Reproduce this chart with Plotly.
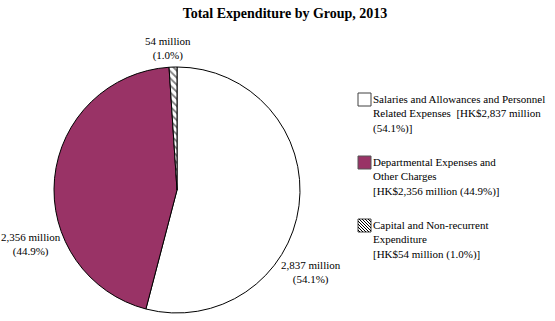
import plotly.graph_objects as go

# ---- data ----
groups = ["Salaries and Allowances and Personnel Related Expenses",
          "Departmental Expenses and Other Charges",
          "Capital and Non-recurrent Expenditure"]
legend_names = ["Salaries and Allowances and Personnel<br>Related Expenses  ",
                "Departmental Expenses and<br>Other Charges<br>",
                "Capital and Non-recurrent<br>Expenditure<br>"]
values_m = [2837, 2356, 54]          # HK$ million
percents = [54.1, 44.9, 1.0]
title_text = "Total Expenditure by Group, 2013"

W, H = 555, 321
FONT = "Liberation Serif, Times New Roman, serif"
PURPLE = "#993366"

def px(x):
    return x / W

def py(y):
    return 1 - y / H

fig = go.Figure()
fig.add_trace(go.Pie(
    labels=groups,
    values=values_m,
    sort=False,
    direction="clockwise",
    rotation=0,
    textinfo="none",
    hoverinfo="label+value+percent",
    marker=dict(
        colors=["white", PURPLE, "white"],
        line=dict(color="black", width=1),
        pattern=dict(shape=["", "", "\\"], fgcolor="#7f7f7f", bgcolor="white",
                     size=5, solidity=0.35),
    ),
    domain=dict(x=[px(54), px(300)], y=[py(313), py(67)]),
    showlegend=False,
))

annotations = []
# slice labels: (x, y, xanchor)
label_pos = [(311, 272, "center"), (31, 244, "center"), (168, 48, "center")]
for v, p, (lx, ly, xa) in zip(values_m, percents, label_pos):
    annotations.append(dict(
        x=px(lx), y=py(ly), xref="paper", yref="paper",
        text=f"{v:,} million<br>({p:.1f}%)", showarrow=False,
        xanchor=xa, yanchor="middle", align="center",
        font=dict(family=FONT, size=11, color="black")))

# legend (boxes + text)
shapes = []
box_tops = [93, 156, 219]
box_x0, box_s = 358, 13
fills = ["white", PURPLE, "white"]
for i, (name, v, p) in enumerate(zip(legend_names, values_m, percents)):
    t = box_tops[i]
    if i == 0:
        txt = f"{name}[HK${v:,} million<br>({p:.1f}%)]"
    else:
        txt = f"{name}[HK${v:,} million ({p:.1f}%)]"
    annotations.append(dict(
        x=px(371), y=py(t - 2), xref="paper", yref="paper",
        text=txt, showarrow=False, xanchor="left", yanchor="top",
        align="left", font=dict(family=FONT, size=11, color="black")))
    shapes.append(dict(type="rect", xref="paper", yref="paper",
                       x0=px(box_x0), x1=px(box_x0 + box_s),
                       y0=py(t + box_s), y1=py(t),
                       fillcolor=fills[i],
                       line=dict(color="#404040" if i != 1 else "#555555", width=1),
                       layer="above" if i == 2 else "below"))
    if i == 2:
        # diagonal hatch "\" clipped to the box
        x0, y0, s = box_x0, t, box_s
        for c in range(-s + 2, s, 3):
            xa = max(0, c); ya = xa - c
            xb = min(s, s + c); yb = xb - c
            if xb - xa <= 0:
                continue
            shapes.append(dict(type="line", xref="paper", yref="paper",
                               x0=px(x0 + xa), y0=py(y0 + ya),
                               x1=px(x0 + xb), y1=py(y0 + yb),
                               line=dict(color="black", width=1)))

fig.update_layout(
    width=W, height=H,
    margin=dict(l=0, r=0, t=0, b=0),
    paper_bgcolor="white", plot_bgcolor="white",
    title=dict(text=f"<b>{title_text}</b>", x=px(285), y=py(13),
               xanchor="center", yanchor="middle",
               font=dict(family=FONT, size=14, color="black")),
    annotations=annotations,
    shapes=shapes,
)

fig.write_html("out.html")
